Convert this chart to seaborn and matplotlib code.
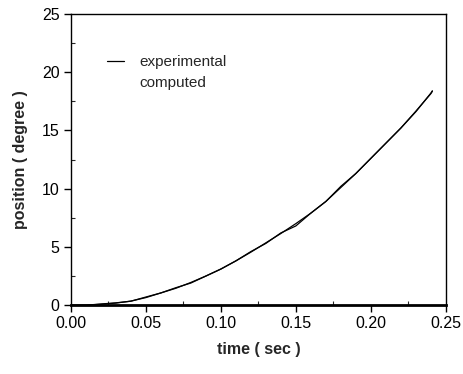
import matplotlib
matplotlib.use("Agg")
import matplotlib.pyplot as plt
import seaborn as sns
import pandas as pd
from matplotlib.lines import Line2D
from matplotlib.ticker import MultipleLocator

time_s = [0.00, 0.01, 0.02, 0.03, 0.04, 0.05, 0.06, 0.07, 0.08, 0.09, 0.10, 0.11,
          0.12, 0.13, 0.14, 0.15, 0.16, 0.17, 0.18, 0.19, 0.20, 0.21, 0.22, 0.23,
          0.24, 0.241]
experimental = [0.0, 0.0, 0.1, 0.2, 0.34, 0.7, 1.05, 1.5, 1.9, 2.5, 3.1, 3.8,
                4.6, 5.3, 6.2, 6.8, 7.9, 8.9, 10.2, 11.3, 12.6, 13.9, 15.2, 16.6,
                18.2, 18.4]
computed = [0.0, 0.0, 0.08, 0.18, 0.35, 0.65, 1.05, 1.45, 1.95, 2.5, 3.1, 3.8,
            4.55, 5.35, 6.15, 7.0, 7.9, 8.9, 10.1, 11.3, 12.6, 13.9, 15.2, 16.65,
            18.15, 18.35]
x_ticks = [0.00, 0.05, 0.10, 0.15, 0.20, 0.25]
x_ticklabels = ["0.00", "0.05", "0.10", "0.15", "0.20", "0.25"]
y_ticks = [0, 5, 10, 15, 20, 25]

df = pd.DataFrame({
    "time": time_s * 2,
    "position": experimental + computed,
    "series": ["experimental"] * len(time_s) + ["computed"] * len(time_s),
})

sns.set_style("ticks")
plt.rcParams["font.family"] = ["Liberation Sans", "DejaVu Sans"]

fig = plt.figure(figsize=(4.63, 3.74), dpi=100)
ax = fig.add_axes([0.153, 0.184, 0.81, 0.779])

sns.lineplot(data=df, x="time", y="position", hue="series",
             palette={"experimental": "black", "computed": "black"},
             linewidth=0.9, ax=ax, legend=False, estimator=None)

ax.set_xlim(0, 0.25)
ax.set_ylim(0, 25)
ax.set_xticks(x_ticks)
ax.set_xticklabels(x_ticklabels)
ax.set_yticks(y_ticks)
ax.xaxis.set_minor_locator(MultipleLocator(0.025))
ax.yaxis.set_minor_locator(MultipleLocator(2.5))
ax.tick_params(axis="both", which="major", direction="out", length=5, width=1,
               labelsize=11.5, colors="black", pad=3)
ax.tick_params(axis="both", which="minor", direction="in", length=3, width=0.8)

for side in ["top", "right", "left"]:
    ax.spines[side].set_visible(True)
    ax.spines[side].set_linewidth(1.0)
    ax.spines[side].set_color("black")
ax.spines["bottom"].set_linewidth(2.0)
ax.spines["bottom"].set_color("black")

ax.set_xlabel("time ( sec )", fontsize=11.5, fontweight="bold", labelpad=8)
ax.set_ylabel("position ( degree )", fontsize=11.5, fontweight="bold", labelpad=10)

handles = [Line2D([0], [0], color="black", linewidth=0.9),
           Line2D([0], [0], color="none", linewidth=0.9)]
ax.legend(handles, ["experimental", "computed"], loc="upper left",
          bbox_to_anchor=(0.06, 0.905), frameon=False, fontsize=11,
          handlelength=1.1, handletextpad=1.0, labelspacing=0.45)

fig.savefig("out.png", dpi=100, facecolor="white")
